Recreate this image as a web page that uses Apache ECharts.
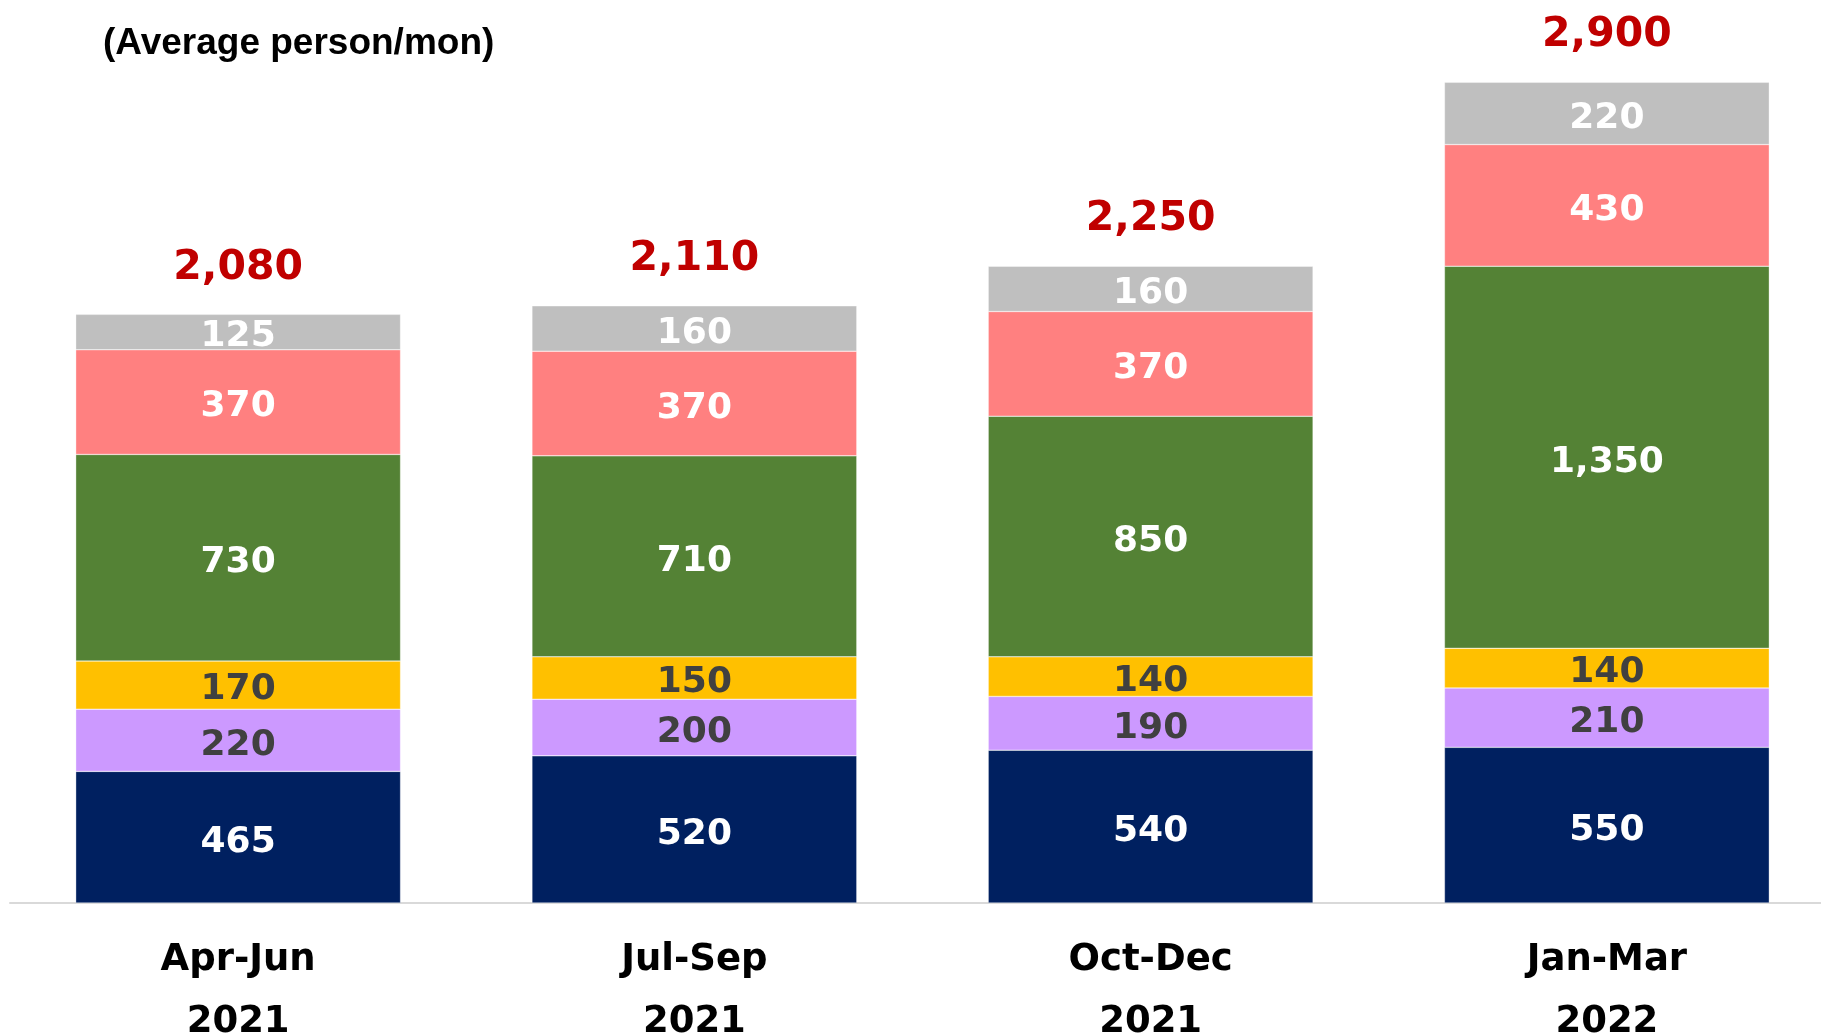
<!DOCTYPE html>
<html>
<head>
<meta charset="utf-8">
<script src="https://cdn.jsdelivr.net/npm/echarts@6/dist/echarts.min.js"></script>
<style>
    html, body { margin: 0; padding: 0; background: #fff; }
    #main { width: 1821px; height: 1034px; }
</style>
</head>
<body>
<div id="main"></div>
<script>
// 季度
var quarters = ['Apr-Jun\n2021', 'Jul-Sep\n2021', 'Oct-Dec\n2021', 'Jan-Mar\n2022'];
// 各段数值（从下往上）
var seg1 = [465, 520, 540, 550];
var seg2 = [220, 200, 190, 210];
var seg3 = [170, 150, 140, 140];
var seg4 = [730, 710, 850, 1350];
var seg5 = [370, 370, 370, 430];
var seg6 = [125, 160, 160, 220];
// 合计
var totals = [2080, 2110, 2250, 2900];
var totalPad = [0, 0, 0, 0];

var segColors = ['#002060', '#CC99FF', '#FFC000', '#548235', '#FF8080', '#BFBFBF'];
var segText = ['#fff', '#404040', '#404040', '#fff', '#fff', '#fff'];
var segData = [seg1, seg2, seg3, seg4, seg5, seg6];

var myChart = echarts.init(document.getElementById('main'));

var series = [];
for (var i = 0; i < segData.length; i++) {
    series.push({
        type: 'bar',
        stack: 'all',
        barCategoryGap: '28.8%',
        data: segData[i],
        itemStyle: {color: segColors[i], borderColor: 'rgba(255,255,255,0.7)', borderWidth: 0.5},
        label: {
            show: true,
            position: 'inside',
            offset: [0, 5],
            color: segText[i],
            fontFamily: 'DejaVu Sans',
            fontWeight: 'bold',
            fontSize: 36,
            formatter: function (p) {
                return p.value.toLocaleString('en-US');
            }
        }
    });
}
// 顶部合计标签
series.push({
    type: 'bar',
    stack: 'all',
    data: totalPad,
    itemStyle: {color: 'transparent'},
    label: {
        show: true,
        position: 'top',
        distance: 26,
        color: '#C00000',
        fontFamily: 'DejaVu Sans',
        fontWeight: 'bold',
        fontSize: 41,
        formatter: function (p) {
            return totals[p.dataIndex].toLocaleString('en-US');
        }
    }
});

var option = {
    animation: false,
    title: {
        text: '(Average person/mon)',
        left: 98,
        top: 20,
        textStyle: {
            fontFamily: 'Liberation Sans',
            fontWeight: 'bold',
            fontSize: 37,
            color: '#000'
        }
    },
    grid: {left: 10, right: -14, top: 54, bottom: 131, outerBoundsMode: 'none'},
    xAxis: {
        type: 'category',
        data: quarters,
        axisLine: {lineStyle: {color: '#D9D9D9', width: 2}},
        axisTick: {show: false},
        axisLabel: {
            margin: 26,
            color: '#000',
            fontFamily: 'DejaVu Sans',
            fontWeight: 'bold',
            fontSize: 37,
            lineHeight: 62
        }
    },
    yAxis: {
        type: 'value',
        min: 0,
        max: 3000,
        show: false,
        splitLine: {show: false}
    },
    series: series
};
myChart.setOption(option);
</script>
</body>
</html>
